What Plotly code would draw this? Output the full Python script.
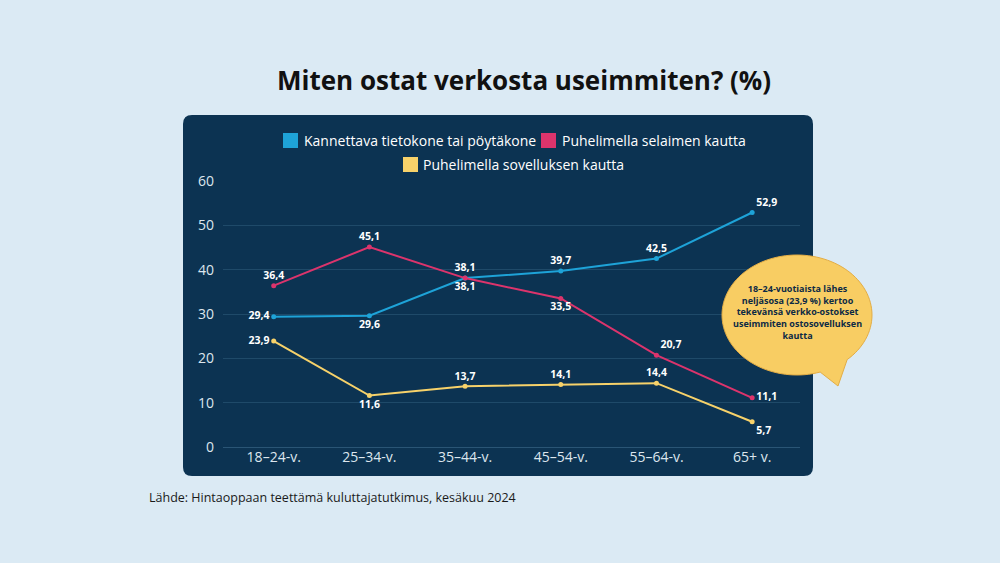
import numpy as np
import plotly.graph_objects as go

categories = ["18–24-v.", "25–34-v.", "35–44-v.", "45–54-v.", "55–64-v.", "65+ v."]
series_names = ["Kannettava tietokone tai pöytäkone", "Puhelimella selaimen kautta", "Puhelimella sovelluksen kautta"]
laptop = [29.4, 29.6, 38.1, 39.7, 42.5, 52.9]
browser = [36.4, 45.1, 38.1, 33.5, 20.7, 11.1]
app = [23.9, 11.6, 13.7, 14.1, 14.4, 5.7]
y_ticks = [0, 10, 20, 30, 40, 50, 60]

title_text = "Miten ostat verkosta useimmiten? (%)"
source_text = "Lähde: Hintaoppaan teettämä kuluttajatutkimus, kesäkuu 2024"
callout_text = ("18–24-vuotiaista lähes<br>neljäsosa (23,9 %) kertoo<br>tekevänsä verkko-ostokset"
                "<br>useimmiten ostosovelluksen<br>kautta")

colors = ["#1ea3d8", "#dc346c", "#f7d26a"]
label_pos = [
    ["middle left", "bottom center", "bottom center", "top center", "top center", "top right"],
    ["top center", "top center", "top center", "bottom center", "top right", "middle right"],
    ["middle left", "bottom center", "top center", "top center", "top center", "bottom right"],
]

FONT = "Open Sans"
W, H = 1000, 563
L, R, T, B = 223, 800, 181, 447


def px(x):
    return (x - L) / (R - L)


def py(y):
    return (B - y) / (B - T)


fig = go.Figure()

for name, vals, col, pos in zip(series_names, [laptop, browser, app], colors, label_pos):
    fig.add_trace(go.Scatter(
        x=categories, y=vals, mode="lines+markers+text", name=name,
        line=dict(color=col, width=2), marker=dict(color=col, size=5),
        text=[f"{v:.1f}".replace(".", ",") for v in vals],
        textposition=pos,
        textfont=dict(family=FONT, size=10.5, color="white", weight="bold"),
        showlegend=False, hoverinfo="skip", cliponaxis=False,
    ))


def rounded_rect(x0, y0, x1, y1, r):
    def P(x, y):
        return f"{px(x):.5f},{py(y):.5f}"
    return (f"M {P(x0 + r, y0)} L {P(x1 - r, y0)} Q {P(x1, y0)} {P(x1, y0 + r)} "
            f"L {P(x1, y1 - r)} Q {P(x1, y1)} {P(x1 - r, y1)} L {P(x0 + r, y1)} "
            f"Q {P(x0, y1)} {P(x0, y1 - r)} L {P(x0, y0 + r)} Q {P(x0, y0)} {P(x0 + r, y0)} Z")


shapes = [dict(type="path", xref="paper", yref="paper", layer="below",
               path=rounded_rect(183, 115, 813, 476, 9),
               fillcolor="#0c3352", line=dict(width=0))]

# legend (manual: square swatch + label)
legend_items = [(283, 140.5, 302), (541, 140.5, 560), (403, 164.5, 421)]
annotations = []
for (sx, sy, tx), name, col in zip(legend_items, series_names, colors):
    shapes.append(dict(type="rect", xref="paper", yref="paper",
                       x0=px(sx), x1=px(sx + 15), y0=py(sy + 7.5), y1=py(sy - 7.5),
                       fillcolor=col, line=dict(width=0)))
    annotations.append(dict(text=name, x=px(tx), y=py(sy), xref="paper", yref="paper",
                            showarrow=False, xanchor="left", yanchor="middle",
                            font=dict(family=FONT, size=14, color="white")))

# speech bubble
cx, cy, rx, ry = 797, 315, 75, 60
ang = np.linspace(0, 2 * np.pi, 120, endpoint=False)
bubble = []
tail_done = False
for a in ang:
    deg = np.degrees(a)
    if 48 < deg < 72:
        if not tail_done:
            bubble.append((cx + rx * np.cos(np.radians(48)), cy + ry * np.sin(np.radians(48))))
            bubble.append((838, 386))
            bubble.append((cx + rx * np.cos(np.radians(72)), cy + ry * np.sin(np.radians(72))))
            tail_done = True
        continue
    bubble.append((cx + rx * np.cos(a), cy + ry * np.sin(a)))
path = "M " + " L ".join(f"{px(x):.5f},{py(y):.5f}" for x, y in bubble) + " Z"
shapes.append(dict(type="path", xref="paper", yref="paper", layer="above",
                   path=path, fillcolor="#f8cd63", line=dict(color="#e3ad45", width=1)))

annotations += [
    dict(text=f"<b>{title_text}</b>", x=px(524), y=py(80), xref="paper", yref="paper",
         showarrow=False, xanchor="center", yanchor="middle",
         font=dict(family=FONT, size=26, color="#111111")),
    dict(text=source_text, x=px(147), y=py(497), xref="paper", yref="paper",
         showarrow=False, xanchor="left", yanchor="middle",
         font=dict(family=FONT, size=12.5, color="#1a1a1a")),
    dict(text=f"<b>{callout_text}</b>", x=px(797), y=py(312), xref="paper", yref="paper",
         showarrow=False, xanchor="center", yanchor="middle", align="center",
         font=dict(family=FONT, size=9, color="#0c2a45")),
]

fig.update_layout(
    width=W, height=H,
    margin=dict(l=L, r=W - R, t=T, b=H - B),
    paper_bgcolor="#dbeaf4", plot_bgcolor="rgba(0,0,0,0)",
    font=dict(family=FONT, color="#dde6ee"),
    separators=", ",
    shapes=shapes, annotations=annotations,
    hovermode=False, showlegend=False,
)
fig.update_xaxes(range=[-0.53, 5.5], showgrid=False, zeroline=False, showline=False,
                 tickfont=dict(family=FONT, size=14, color="#dde6ee"), ticks="", fixedrange=True)
fig.update_yaxes(range=[0, 60], tickvals=y_ticks, gridcolor="#1f4a69", gridwidth=1,
                 zeroline=True, zerolinecolor="#2a5575", zerolinewidth=1, showline=False,
                 tickfont=dict(family=FONT, size=14, color="#dde6ee"), ticks="",
                 ticklabelstandoff=8, fixedrange=True)

fig.write_html("out.html", config={"displayModeBar": False},
               post_script="document.body.style.margin='0';document.body.style.overflow='hidden';")
